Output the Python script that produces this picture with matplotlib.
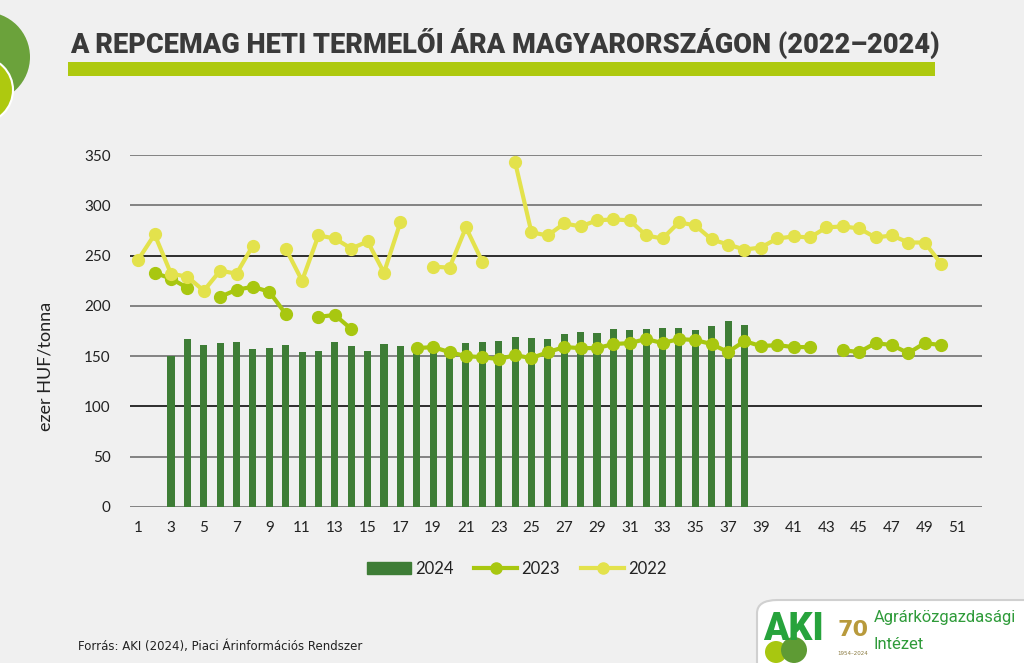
import numpy as np
import matplotlib
matplotlib.use("Agg")
import matplotlib.pyplot as plt
from matplotlib.patches import Rectangle, FancyBboxPatch, Ellipse, Patch
from matplotlib.lines import Line2D

nan = np.nan

weeks = list(range(1, 53))

# 2024 weekly price (bars), weeks 3-38
p2024 = [nan, nan, 150, 167, 161, 163, 164, 157, 158, 161, 154, 155, 164, 160,
         155, 162, 160, 155, 153, 152, 163, 164, 165, 169, 168, 167, 172, 174,
         173, 177, 176, 177, 178, 178, 176, 180, 185, 181,
         nan, nan, nan, nan, nan, nan, nan, nan, nan, nan, nan, nan, nan, nan]

# 2023 weekly price
p2023 = [nan, 233, 227, 218, nan, 209, 216, 219, 214, 192, nan, 189, 191, 177,
         nan, nan, nan, 158, 159, 154, 150, 149, 147, 151, 148, 154, 159, 158,
         158, 162, 163, 167, 163, 167, 166, 162, 154, 165, 160, 161, 159, 159,
         nan, 156, 154, 163, 161, 153, 163, 161, nan, nan]

# 2022 weekly price
p2022 = [246, 271, 232, 229, 215, 235, 232, 260, nan, 257, 225, 270, 267, 257,
         264, 233, 283, nan, 239, 238, 278, 244, nan, 343, 273, 270, 282, 279,
         285, 286, 285, 270, 267, 283, 280, 266, 261, 256, 258, 267, 269, 268,
         278, 279, 277, 268, 270, 263, 263, 242, nan, nan]

xticks = list(range(1, 52, 2))
yticks = [0, 50, 100, 150, 200, 250, 300, 350]

bg = "#f0f0f0"
c2024 = "#3e7d36"
c2023 = "#a8c710"
c2022 = "#e3e24c"

fig = plt.figure(figsize=(10.24, 6.63), dpi=100, facecolor=bg)
ax = fig.add_axes([0.127, 0.2353, 0.832, 0.5309], facecolor=bg)

for y in yticks:
    col = "#1e1e1e" if y in (100, 250) else "#7a7a7a"
    ax.axhline(y, color=col, lw=1.3, zorder=0)

ax.bar(weeks, p2024, width=0.43, color=c2024, zorder=2)
ax.plot(weeks, p2023, color=c2023, lw=3.0, marker="o", ms=8.5, zorder=3)
ax.plot(weeks, p2022, color=c2022, lw=3.0, marker="o", ms=8.5, zorder=3)

ax.set_xlim(0.5, 52.5)
ax.set_ylim(0, 350)
ax.set_xticks(xticks)
ax.set_yticks(yticks)
ax.tick_params(length=0, labelsize=11, colors="#222222", pad=10)
ax.tick_params(axis="y", pad=14)
for lab in ax.get_xticklabels() + ax.get_yticklabels():
    lab.set_family("Lato")
for s in ax.spines.values():
    s.set_visible(False)
ax.set_ylabel("ezer HUF/tonna", fontsize=13, color="#222222", family="Lato")
ax.yaxis.set_label_coords(-0.09, 0.4)

handles = [Patch(color=c2024, label="2024"),
           Line2D([], [], color=c2023, lw=3, marker="o", ms=8, label="2023"),
           Line2D([], [], color=c2022, lw=3, marker="o", ms=8, label="2022")]
fig.legend(handles=handles, loc="center", bbox_to_anchor=(0.505, 0.142), ncol=3,
           frameon=False, prop={"family": "Lato", "size": 12}, handlelength=2.6,
           handletextpad=0.25, columnspacing=1.25, labelcolor="#222222")

# title block
fig.text(0.068, 0.934, "A REPCEMAG HETI TERMELŐI ÁRA MAGYARORSZÁGON (2022–2024)",
         fontsize=19.5, fontweight="heavy", family=["Roboto", "DejaVu Sans"], color="#3a3a3a",
         va="center", ha="left")
fig.add_artist(Rectangle((0.066, 0.886), 0.847, 0.02, transform=fig.transFigure,
                         color="#aec90f", lw=0))

# decorative circles (top left)
W, H = 1024, 663
fig.add_artist(Ellipse((-15 / W, 1 - 57 / H), 90 / W, 90 / H, transform=fig.transFigure,
                       facecolor="#6ba23b", edgecolor="none"))
fig.add_artist(Ellipse((-20 / W, 1 - 90 / H), 66 / W, 66 / H, transform=fig.transFigure,
                       facecolor="#aec90f", edgecolor="white", lw=1.5))

# source
fig.text(0.076, 0.025, "Forrás: AKI (2024), Piaci Árinformációs Rendszer", fontsize=8.5,
         family=["Liberation Sans Narrow", "DejaVu Sans"], color="#222222", va="center")

# logo panel
fig.add_artist(FancyBboxPatch((757 / W, -0.05), 300 / W, 0.145, transform=fig.transFigure,
                              boxstyle="round,pad=0,rounding_size=0.02",
                              facecolor="white", edgecolor="#d0d0d0", lw=1.5))
fig.add_artist(Ellipse((776 / W, 1 - 652 / H), 22 / W, 22 / H, transform=fig.transFigure,
                       facecolor="#a8c710", edgecolor="none"))
fig.add_artist(Ellipse((794 / W, 1 - 650 / H), 26 / W, 26 / H, transform=fig.transFigure,
                       facecolor="#5e9b34", edgecolor="none"))
fig.text(0.745, 0.05, "AKI", fontsize=27, fontweight="black", color="#27a33c",
         family=["Roboto", "DejaVu Sans"], va="center")
fig.text(0.818, 0.05, "70", fontsize=16, fontweight="bold", color="#b89a3c",
         family="DejaVu Sans", va="center")
fig.text(0.818, 0.014, "1954–2024", fontsize=4, color="#8a7a40", va="center")
fig.text(0.853, 0.068, "Agrárközgazdasági", fontsize=12, color="#2f9b3a",
         family=["Roboto", "DejaVu Sans"], va="center")
fig.text(0.853, 0.028, "Intézet", fontsize=12, color="#2f9b3a",
         family=["Roboto", "DejaVu Sans"], va="center")

fig.savefig("out.png", dpi=100, facecolor=bg)
